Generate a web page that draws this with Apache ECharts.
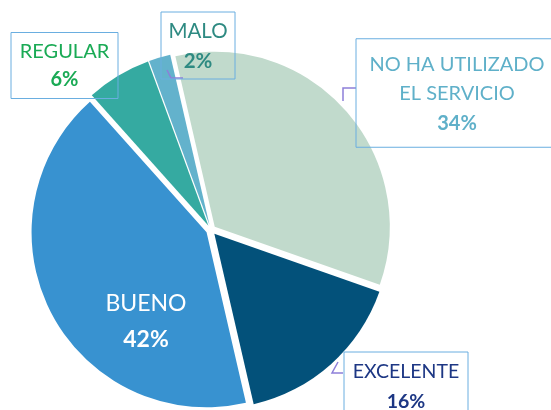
<!DOCTYPE html>
<html>
<head>
<meta charset="utf-8">
<script src="https://cdn.jsdelivr.net/npm/echarts@6/dist/echarts.min.js"></script>
<style>
  html, body { margin: 0; padding: 0; background: #ffffff; }
  #chart { width: 551px; height: 410px; }
</style>
</head>
<body>
<div id="chart"></div>
<script>
// Survey answers, in clockwise order starting near twelve o'clock
const categories = ['NO HA UTILIZADO\nEL SERVICIO', 'EXCELENTE', 'BUENO', 'REGULAR', 'MALO'];
const shares = [34, 16, 42, 6, 2];

const sliceColors = ['#c1dacc', '#03517a', '#3892d0', '#35aaa1', '#63b2cc'];
const textColors = ['#5fb0c9', '#1d3784', '#ffffff', '#1aaa55', '#2e8a82'];

// Callout boxes: centre, content width, padding, line height, font size and the short leader elbow
const callouts = [
  { cx: 457, cy: 93, width: 202, padding: [11, 0, 9, 0], lineHeight: 29.5, fontSize: 20, box: true,
    leader: [[343, 101], [343, 88], [356, 88]] },
  { cx: 406, cy: 387, width: 124, padding: [5, 0, 5, 0], lineHeight: 30, fontSize: 19.5, box: true,
    leader: [[338, 362], [332, 373], [343, 373]] },
  { cx: 146, cy: 322, width: 110, padding: [0, 0, 0, 0], lineHeight: 36, fontSize: 23, box: false,
    leader: null },
  { cx: 64.5, cy: 65.5, width: 107, padding: [5, 0, 5, 0], lineHeight: 28, fontSize: 20, box: true,
    leader: null },
  { cx: 198, cy: 45.5, width: 74, padding: [4, 0, 3, 0], lineHeight: 30, fontSize: 20.5, box: true,
    leader: [[167, 70], [171, 78], [183, 78]] }
];

const FONT = 'Lato, "Open Sans", sans-serif';
const total = shares.reduce((a, b) => a + b, 0);

const pieData = categories.map((name, i) => ({
  name: name,
  value: shares[i],
  selected: true,
  itemStyle: { color: sliceColors[i] }
}));

const graphics = [];
categories.forEach((name, i) => {
  const c = callouts[i];
  const pct = Math.round(shares[i] / total * 100);
  const lines = name.split('\n').map(l => '{n|' + l + '}');
  lines.push('{p|' + pct + '%}');
  graphics.push({
    type: 'text',
    x: c.cx,
    y: c.cy,
    z: 10,
    silent: true,
    style: {
      text: lines.join('\n'),
      align: 'center',
      verticalAlign: 'middle',
      width: c.width,
      padding: c.padding,
      borderColor: c.box ? '#6aaee0' : null,
      borderWidth: c.box ? 1 : 0,
      rich: {
        n: { fontFamily: FONT, fontSize: c.fontSize, fill: textColors[i], lineHeight: c.lineHeight, align: 'center' },
        p: { fontFamily: FONT, fontSize: c.fontSize, fontWeight: 'bold', fill: textColors[i], lineHeight: c.lineHeight, align: 'center' }
      }
    }
  });
  if (c.leader) {
    graphics.push({
      type: 'polyline',
      z: 9,
      silent: true,
      shape: { points: c.leader },
      style: { stroke: '#8d7fd9', lineWidth: 1.5, fill: null }
    });
  }
});

const chart = echarts.init(document.getElementById('chart'), null, { renderer: 'canvas' });
chart.setOption({
  animation: false,
  backgroundColor: '#ffffff',
  graphic: graphics,
  series: [{
    type: 'pie',
    center: [211, 230],
    radius: [0, 175],
    startAngle: 103,
    clockwise: true,
    selectedMode: 'multiple',
    selectedOffset: 5,
    emphasis: { disabled: true },
    label: { show: false },
    labelLine: { show: false },
    data: pieData
  }]
});
</script>
</body>
</html>
